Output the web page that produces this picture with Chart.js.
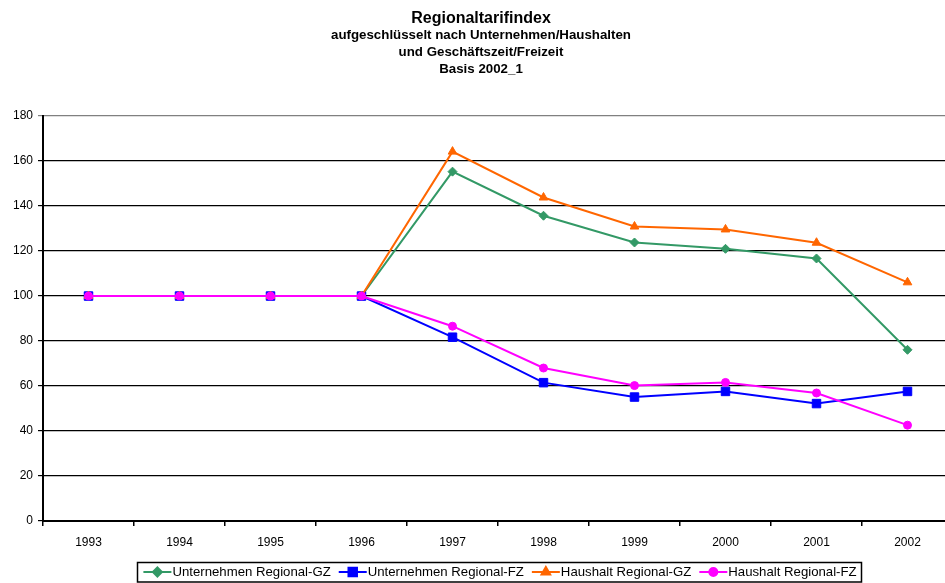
<!DOCTYPE html>
<html>
<head>
<meta charset="utf-8">
<script src="https://cdn.jsdelivr.net/npm/chart.js@4/dist/chart.umd.min.js"></script>
<style>
  html, body { margin: 0; padding: 0; background: #fff; overflow: hidden; }
  #wrap { position: relative; width: 960px; height: 583px; }
</style>
</head>
<body>
<div id="wrap"><canvas id="chart"></canvas></div>
<script>
  const years = ['1993', '1994', '1995', '1996', '1997', '1998', '1999', '2000', '2001', '2002'];
  const untGZ = [100, 100, 100, 100, 155.3, 135.7, 123.8, 121.0, 116.7, 76.1];
  const untFZ = [100, 100, 100, 100, 81.7, 61.5, 55.1, 57.6, 52.2, 57.6];
  const hhGZ = [100, 100, 100, 100, 164.2, 143.8, 130.9, 129.6, 123.7, 106.1];
  const hhFZ = [100, 100, 100, 100, 86.6, 68.0, 60.2, 61.6, 56.9, 42.6];
  const yTicks = [0, 20, 40, 60, 80, 100, 120, 140, 160, 180];

  const FONT = "'Liberation Sans', Arial, sans-serif";

  function series(label, data, color, style, radius, order) {
    return {
      label: label,
      data: data,
      borderColor: color,
      backgroundColor: color,
      borderWidth: 2,
      pointStyle: style,
      pointRadius: radius,
      pointHoverRadius: radius,
      pointBorderWidth: 1,
      tension: 0,
      fill: false,
      order: order
    };
  }

  // legend drawn by hand: line + marker + text in a framed box
  const boxLegend = {
    id: 'boxLegend',
    afterDraw(chart) {
      const ctx = chart.ctx;
      const sets = chart.data.datasets;
      const lineLen = 28;
      const gap = 1;
      const itemGap = 8;
      ctx.save();
      ctx.font = '13.2px ' + FONT;
      const widths = sets.map((d) => ctx.measureText(d.label).width);
      const total = widths.reduce((a, w) => a + lineLen + gap + w, 0) + itemGap * (sets.length - 1);
      const cx = 500;
      const cy = 572;
      let x = cx - total / 2;
      ctx.strokeStyle = '#000';
      ctx.lineWidth = 1.5;
      ctx.strokeRect(Math.round(x - 6) + 0.5, 562.5, Math.round(total + 11), 19.5);
      sets.forEach((d, i) => {
        ctx.strokeStyle = d.borderColor;
        ctx.lineWidth = 2;
        ctx.beginPath();
        ctx.moveTo(x, cy);
        ctx.lineTo(x + lineLen, cy);
        ctx.stroke();
        ctx.fillStyle = d.backgroundColor;
        if (Chart.helpers && Chart.helpers.drawPoint) {
          Chart.helpers.drawPoint(ctx, {
            pointStyle: d.pointStyle,
            radius: d.pointRadius,
            rotation: 0,
            borderWidth: 1
          }, x + lineLen / 2, cy);
        }
        ctx.fillStyle = '#000';
        ctx.textBaseline = 'middle';
        ctx.textAlign = 'left';
        ctx.fillText(d.label, x + lineLen + gap, cy + 0.5);
        x += lineLen + gap + widths[i] + itemGap;
      });
      ctx.restore();
    }
  };

  new Chart(document.getElementById('chart'), {
    type: 'line',
    data: {
      labels: years,
      datasets: [
        series('Unternehmen Regional-GZ', untGZ, '#339966', 'rectRot', 4.5, 3),
        series('Unternehmen Regional-FZ', untFZ, '#0000FF', 'rect', 6, 2),
        series('Haushalt Regional-GZ', hhGZ, '#FF6600', 'triangle', 5, 1),
        series('Haushalt Regional-FZ', hhFZ, '#FF00FF', 'circle', 4, 0)
      ]
    },
    options: {
      responsive: true,
      maintainAspectRatio: false,
      animation: false,
      layout: { padding: { left: 4, right: 2, top: 0, bottom: 32 } },
      plugins: {
        legend: { display: false },
        tooltip: { enabled: false },
        title: {
          display: true,
          text: 'Regionaltarifindex',
          color: '#000',
          font: { family: FONT, size: 16, weight: 'bold', lineHeight: 1.0 },
          padding: { top: 11, bottom: 0 }
        },
        subtitle: {
          display: true,
          text: ['aufgeschlüsselt nach Unternehmen/Haushalten', 'und Geschäftszeit/Freizeit', 'Basis 2002_1'],
          color: '#000',
          font: { family: FONT, size: 13.3, weight: 'bold', lineHeight: 1.28 },
          padding: { top: 0, bottom: 38 }
        }
      },
      scales: {
        x: {
          offset: true,
          afterFit(scale) { scale.height = 30; },
          grid: {
            offset: true,
            drawOnChartArea: false,
            drawTicks: true,
            tickLength: 5,
            color: '#000',
            lineWidth: 1.5
          },
          border: { display: true, color: '#000', width: 2 },
          ticks: { color: '#000', padding: 9, font: { family: FONT, size: 12 } }
        },
        y: {
          min: 0,
          max: 180,
          afterFit(scale) { scale.width = 39; },
          afterBuildTicks(scale) { scale.ticks = yTicks.map((v) => ({ value: v })); },
          grid: {
            color: (c) => (c.tick && c.tick.value === 180 ? '#808080' : '#000'),
            lineWidth: 1.2,
            tickLength: 5,
            drawTicks: true
          },
          border: { display: true, color: '#000', width: 2 },
          ticks: { color: '#000', padding: 5, font: { family: FONT, size: 12 } }
        }
      }
    },
    plugins: [boxLegend]
  });
</script>
</body>
</html>
